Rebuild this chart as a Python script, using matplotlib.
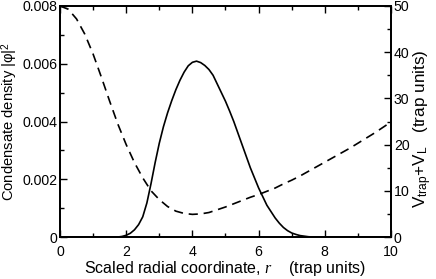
import matplotlib
matplotlib.use("Agg")
import matplotlib.pyplot as plt
from matplotlib.ticker import MultipleLocator, FixedLocator, FixedFormatter

plt.rcParams['font.family'] = ['Liberation Sans', 'DejaVu Sans']
plt.rcParams['mathtext.fontset'] = 'custom'
plt.rcParams['mathtext.rm'] = 'Liberation Sans'
plt.rcParams['mathtext.it'] = 'Liberation Serif:italic'
plt.rcParams['mathtext.sf'] = 'Liberation Sans'

# condensate density |phi|^2 (left axis), sampled in r
r_density = [0.0, 0.5, 1.0, 1.5, 1.75, 1.875, 2.0, 2.125, 2.25, 2.375, 2.5, 2.625,
             2.75, 2.875, 3.0, 3.125, 3.25, 3.375, 3.5, 3.625, 3.75, 3.875,
             4.0, 4.125, 4.25, 4.375, 4.5, 4.625, 4.75, 4.875, 5.0, 5.125,
             5.25, 5.375, 5.5, 5.625, 5.75, 5.875, 6.0, 6.125, 6.25, 6.375,
             6.5, 6.625, 6.75, 6.875, 7.0, 7.125, 7.25, 7.375, 7.5, 7.625,
             8.0, 9.0, 10.0]
density = [0.0, 0.0, 0.0, 0.0, 0.0, 0.00002, 0.00006, 0.00013, 0.00025, 0.00043, 0.0007, 0.00118,
           0.00185, 0.00258, 0.00325, 0.00382, 0.0043, 0.00472, 0.0051, 0.00543, 0.00571, 0.00593,
           0.00605, 0.00609, 0.00604, 0.00594, 0.0058, 0.0056, 0.0053, 0.0050, 0.0047, 0.00436,
           0.0040, 0.0036, 0.0032, 0.0028, 0.0024, 0.00205, 0.0017, 0.0014, 0.0011, 0.00088,
           0.00066, 0.00048, 0.00033, 0.00022, 0.00014, 0.00009, 0.00005, 0.00003, 0.00001, 0.0,
           0.0, 0.0, 0.0]

# potential V_trap + V_L (right axis), sampled in r
r_potential = [0.0, 0.25, 0.5, 0.75, 1.0, 1.25, 1.5, 1.75, 2.0, 2.25, 2.5, 2.75,
               3.0, 3.25, 3.5, 3.75, 4.0, 4.25, 4.5, 4.75, 5.0, 5.25, 5.5, 5.75,
               6.0, 6.25, 6.5, 6.75, 7.0, 7.25, 7.5, 7.75, 8.0, 8.25, 8.5, 8.75,
               9.0, 9.25, 9.5, 9.75, 10.0]
potential = [50.0, 49.3, 47.2, 43.9, 39.6, 34.6, 29.4, 24.4, 20.0, 16.1, 12.8, 10.0,
             8.1, 6.6, 5.6, 5.1, 4.9, 5.0, 5.3, 5.9, 6.5, 7.2, 7.9, 8.6,
             9.2, 9.9, 10.6, 11.5, 12.3, 13.2, 14.2, 15.2, 16.2, 17.2, 18.2, 19.2,
             20.3, 21.4, 22.5, 23.7, 24.9]

left_ticks = [0, 0.002, 0.004, 0.006, 0.008]
left_labels = ["0", "0.002", "0.004", "0.006", "0.008"]
right_ticks = [0, 10, 20, 30, 40, 50]
x_ticks = [0, 2, 4, 6, 8, 10]

fig = plt.figure(figsize=(4.36, 2.79), dpi=100)
ax = fig.add_axes([0.1376, 0.1505, 0.7592, 0.828])
ax2 = ax.twinx()

ax.plot(r_density, density, color='black', lw=1.2, solid_joinstyle='round')
ax2.plot(r_potential, potential, color='black', lw=1.2, linestyle=(0, (5.5, 3.5)))

ax.set_xlim(0, 10)
ax.set_ylim(0, 0.008)
ax2.set_ylim(0, 50)

ax.xaxis.set_major_locator(FixedLocator(x_ticks))
ax.xaxis.set_minor_locator(MultipleLocator(1))
ax.yaxis.set_major_locator(FixedLocator(left_ticks))
ax.yaxis.set_major_formatter(FixedFormatter(left_labels))
ax.yaxis.set_minor_locator(MultipleLocator(0.001))
ax2.yaxis.set_major_locator(FixedLocator(right_ticks))
ax2.yaxis.set_minor_locator(MultipleLocator(5))

fs = 10.2
ax.tick_params(axis='x', which='both', direction='in', top=True, bottom=True, labelsize=fs, pad=5.5)
ax.tick_params(axis='y', which='both', direction='in', left=True, right=False, labelsize=fs, pad=2)
ax2.tick_params(axis='y', which='both', direction='in', right=True, left=False, labelsize=fs, pad=2)
for a in (ax, ax2):
    a.tick_params(which='major', length=5, width=1.0)
    a.tick_params(which='minor', length=3, width=1.0)
    for s in a.spines.values():
        s.set_linewidth(1.3)

ax.set_xlabel("Scaled radial coordinate, $r$    (trap units)", fontsize=11.5, labelpad=0)
ax.set_ylabel("Condensate density |φ|$^{2}$", fontsize=10.6)
ax.yaxis.set_label_coords(-0.122, 0.5)
ax2.set_ylabel("V$_{\\rm trap}$+V$_{\\rm L}$   (trap units)", fontsize=12.3)
ax2.yaxis.set_label_coords(1.063, 0.47)

fig.savefig("out.png", dpi=100)
